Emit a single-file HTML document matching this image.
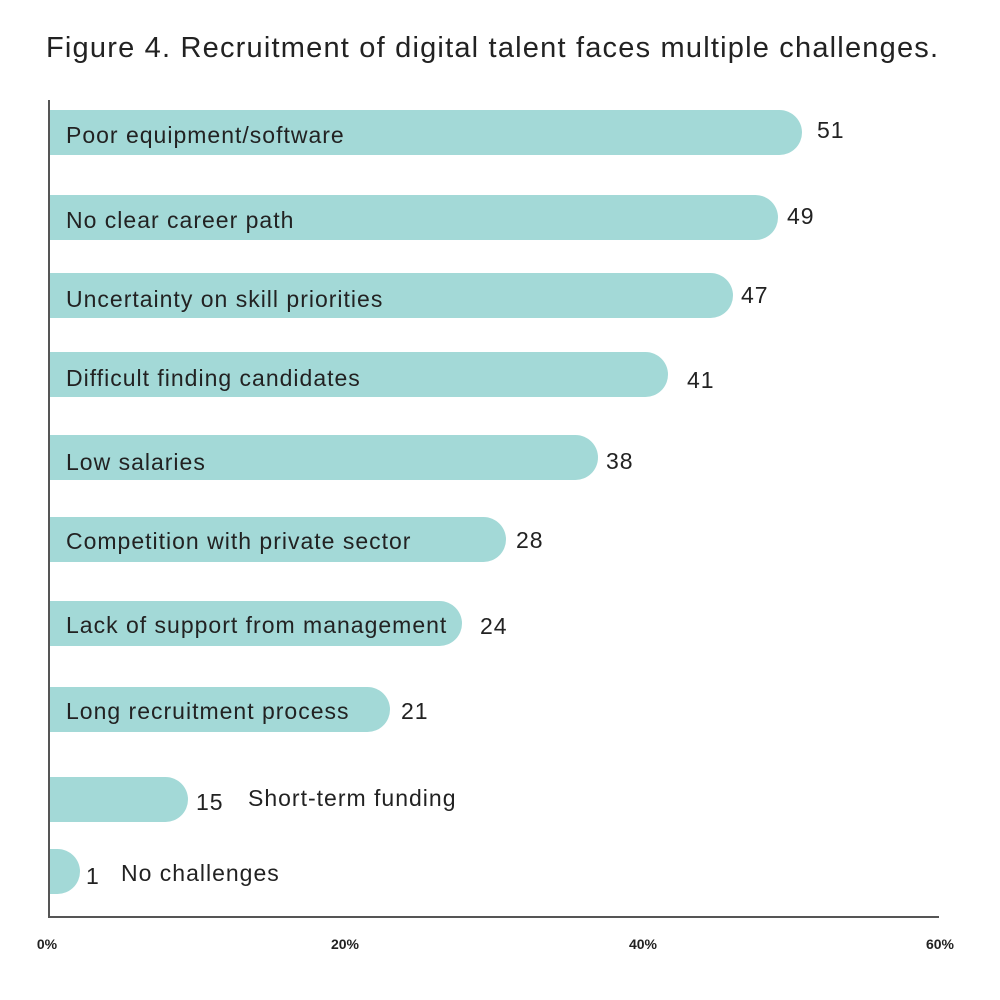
<!DOCTYPE html>
<html><head><style>
body{margin:0;background:#fff;width:1000px;height:1000px;position:relative;overflow:hidden;font-family:"Liberation Sans",sans-serif;color:#222}
.t{position:absolute;left:46px;top:32px;font-size:29px;letter-spacing:1.2px;color:#222;white-space:nowrap}
.b{position:absolute;left:50px;height:45px;background:#a3d9d7;border-radius:0 23px 23px 0}
.l{position:absolute;font-size:23px;letter-spacing:1px;line-height:26px;white-space:nowrap}
.x{position:absolute;top:936px;font-size:14px;font-weight:bold;transform:translateX(-50%)}
</style></head><body>
<div class="t">Figure 4. Recruitment of digital talent faces multiple challenges.</div>
<div style="position:absolute;left:48px;top:100px;width:2px;height:818px;background:#555"></div>
<div style="position:absolute;left:48px;top:916px;width:891px;height:2px;background:#555"></div>

<div class="b" style="top:110px;width:752px"></div>
<div class="l" style="left:66px;top:122px">Poor equipment/software</div>
<div class="l" style="left:817px;top:117px">51</div>

<div class="b" style="top:195px;width:728px"></div>
<div class="l" style="left:66px;top:207px">No clear career path</div>
<div class="l" style="left:787px;top:203px">49</div>

<div class="b" style="top:273px;width:683px"></div>
<div class="l" style="left:66px;top:286px">Uncertainty on skill priorities</div>
<div class="l" style="left:741px;top:282px">47</div>

<div class="b" style="top:352px;width:618px"></div>
<div class="l" style="left:66px;top:365px">Difficult finding candidates</div>
<div class="l" style="left:687px;top:367px">41</div>

<div class="b" style="top:435px;width:548px"></div>
<div class="l" style="left:66px;top:449px">Low salaries</div>
<div class="l" style="left:606px;top:448px">38</div>

<div class="b" style="top:517px;width:456px"></div>
<div class="l" style="left:66px;top:528px">Competition with private sector</div>
<div class="l" style="left:516px;top:527px">28</div>

<div class="b" style="top:601px;width:412px"></div>
<div class="l" style="left:66px;top:612px">Lack of support from management</div>
<div class="l" style="left:480px;top:613px">24</div>

<div class="b" style="top:687px;width:340px"></div>
<div class="l" style="left:66px;top:698px">Long recruitment process</div>
<div class="l" style="left:401px;top:698px">21</div>

<div class="b" style="top:777px;width:138px"></div>
<div class="l" style="left:196px;top:789px">15</div>
<div class="l" style="left:248px;top:785px">Short-term funding</div>

<div class="b" style="top:849px;width:30px"></div>
<div class="l" style="left:86px;top:863px">1</div>
<div class="l" style="left:121px;top:860px">No challenges</div>

<div class="x" style="left:47px">0%</div>
<div class="x" style="left:345px">20%</div>
<div class="x" style="left:643px">40%</div>
<div class="x" style="left:940px">60%</div>
</body></html>
